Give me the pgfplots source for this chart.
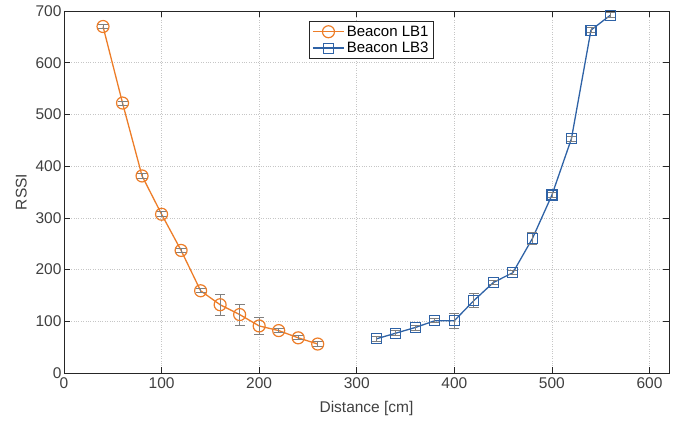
\documentclass[border=0pt]{standalone}
\usepackage{fontspec}
\setmainfont{Liberation Sans}
\usepackage{pgfplots}
\pgfplotsset{compat=1.18}
\usetikzlibrary{calc}

\definecolor{lbone}{RGB}{237,125,40}
\definecolor{lbthree}{RGB}{46,98,166}
\definecolor{axgray}{RGB}{38,38,38}
\definecolor{txgray}{RGB}{64,64,64}

\begin{document}
\begin{tikzpicture}[x=1pt,y=1pt]
\begin{axis}[
    scale only axis,
    width=605pt, height=362pt,
    xmin=0, xmax=620,
    ymin=0, ymax=700,
    xtick={0,100,...,600},
    ytick={0,100,...,700},
    tick align=inside,
    tick pos=both,
    major tick length=6pt,
    axis line style={axgray, line width=0.7pt},
    tick style={axgray, line width=0.7pt},
    grid=major,
    grid style={dotted, gray!45, line width=0.7pt},
    xlabel={Distance [cm]},
    ylabel={RSSI},
    label style={font=\fontsize{15.5}{18}\selectfont, text=txgray},
    ticklabel style={font=\fontsize{15.5}{18}\selectfont, text=txgray},
    /pgf/number format/assume math mode=true,
    yticklabel style={xshift=1pt},
    xticklabel style={yshift=-1pt},
    xlabel style={yshift=-6pt},
    ylabel style={yshift=2pt},
    legend style={at={(0.508,0.972)}, anchor=north, draw=axgray,
        font=\fontsize{15}{17}\selectfont, inner sep=2.5pt,
        row sep=0.5pt, cells={anchor=west}},
    legend image code/.code={
        \draw[mark repeat=2,mark phase=2] plot coordinates {(0cm,0cm) (0.55cm,0cm) (1.1cm,0cm)};},
    error bars/error bar style={gray, line width=0.8pt},
    error bars/error mark options={rotate=90, mark size=5pt, gray, line width=0.8pt},
]

\addplot[color=lbone, line width=1.3pt, mark=o, mark size=6pt,
    mark options={line width=1.2pt},
    error bars/.cd, y dir=both, y explicit]
    coordinates {
    (40,670) +- (0,4)
    (60,522) +- (0,4)
    (80,381) +- (0,5)
    (100,307) +- (0,5)
    (120,237) +- (0,4)
    (140,159) +- (0,4)
    (160,132) +- (0,20)
    (180,113) +- (0,20)
    (200,91) +- (0,17)
    (220,82) +- (0,4)
    (240,68) +- (0,4)
    (260,56) +- (0,5)
    };
\addlegendentry{Beacon LB1}

\addplot[color=lbthree, line width=1.3pt, mark=square, mark size=5pt,
    mark options={line width=1.2pt},
    error bars/.cd, y dir=both, y explicit]
    coordinates {
    (320,66) +- (0,5)
    (340,77) +- (0,5)
    (360,88) +- (0,5)
    (380,101) +- (0,4)
    (400,101) +- (0,15)
    (420,140) +- (0,14)
    (440,175) +- (0,4)
    (460,194) +- (0,4)
    (480,260) +- (0,11)
    (500,344) +- (0,5)
    (520,453) +- (0,5)
    (540,663) +- (0,5)
    (560,692) +- (0,5)
    };
\addlegendentry{Beacon LB3}
\end{axis}
\pgfresetboundingbox
\path ($(current axis.south west)+(-64pt,-48pt)$) rectangle ($(current axis.north east)+(12pt,11pt)$);
\end{tikzpicture}
\end{document}
